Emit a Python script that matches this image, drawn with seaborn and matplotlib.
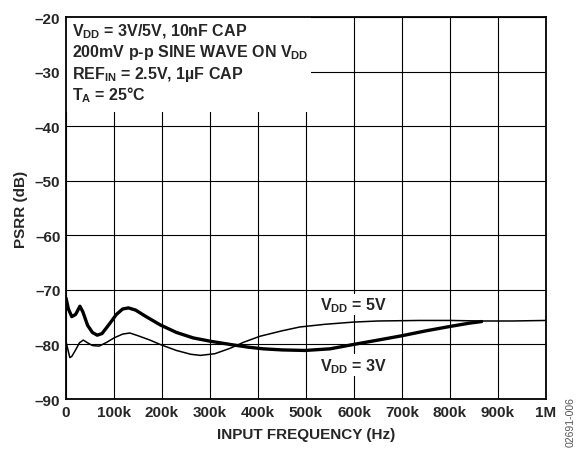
import matplotlib
matplotlib.use("Agg")
import matplotlib.pyplot as plt
import seaborn as sns
import pandas as pd
from matplotlib.patches import Rectangle

# frequency in kHz, PSRR in dB
freq_3v = [0, 5, 12, 20, 29, 35, 45, 55, 65, 75, 90, 105, 118, 130, 145, 165,
           196, 230, 265, 300, 342, 380, 411, 450, 498, 550, 599, 650, 700,
           750, 800, 840, 866]
psrr_3v = [-71.5, -73.5, -74.9, -74.5, -73.0, -74.0, -76.5, -77.8, -78.3, -78.0,
           -76.3, -74.5, -73.5, -73.3, -73.7, -74.8, -76.4, -77.8, -78.8, -79.4,
           -80.0, -80.5, -80.8, -81.0, -81.1, -80.8, -80.0, -79.2, -78.4, -77.5,
           -76.7, -76.1, -75.8]

freq_5v = [0, 3, 8, 12, 20, 28, 36, 45, 55, 69, 85, 100, 118, 133, 150, 175,
           196, 230, 260, 280, 310, 342, 370, 404, 450, 487, 540, 599, 650,
           737, 800, 866, 930, 1000]
psrr_5v = [-79.5, -80.6, -82.4, -82.2, -81.0, -79.7, -79.2, -79.7, -80.2, -80.3,
           -79.6, -78.8, -78.1, -77.9, -78.4, -79.2, -80.0, -81.1, -81.8, -82.0,
           -81.7, -80.7, -79.6, -78.5, -77.5, -76.8, -76.3, -75.9, -75.7, -75.6,
           -75.6, -75.7, -75.7, -75.6]

x_ticks = [0, 100, 200, 300, 400, 500, 600, 700, 800, 900, 1000]
x_labels = ["0", "100k", "200k", "300k", "400k", "500k", "600k", "700k",
            "800k", "900k", "1M"]
y_ticks = [-90, -80, -70, -60, -50, -40, -30, -20]
y_labels = ["\u201390", "\u201380", "\u201370", "\u201360", "\u201350",
            "\u201340", "\u201330", "\u201320"]

notes = ["V$_{\\mathrm{DD}}$ = 3V/5V, 10nF CAP",
         "200mV p-p SINE WAVE ON V$_{\\mathrm{DD}}$",
         "REF$_{\\mathrm{IN}}$ = 2.5V, 1\u00b5F CAP",
         "T$_{\\mathrm{A}}$ = 25\u00b0C"]

sns.set_style("white")
plt.rcParams["font.family"] = ["Liberation Sans", "DejaVu Sans"]
plt.rcParams["font.weight"] = "bold"
plt.rcParams["mathtext.fontset"] = "custom"
plt.rcParams["mathtext.rm"] = "Liberation Sans:bold"
plt.rcParams["mathtext.it"] = "Liberation Sans:bold"
plt.rcParams["mathtext.bf"] = "Liberation Sans:bold"

fig = plt.figure(figsize=(5.8, 4.52), dpi=100)
ax = fig.add_axes([0.1138, 0.115, 0.8276, 0.845])

df3 = pd.DataFrame({"f": freq_3v, "psrr": psrr_3v})
df5 = pd.DataFrame({"f": freq_5v, "psrr": psrr_5v})
sns.lineplot(data=df5, x="f", y="psrr", ax=ax, color="black", lw=1.1,
             sort=False, zorder=2)
sns.lineplot(data=df3, x="f", y="psrr", ax=ax, color="black", lw=2.4,
             sort=False, zorder=2)

ax.set_xlim(0, 1000)
ax.set_ylim(-90, -20)
ax.set_xticks(x_ticks)
ax.set_xticklabels(x_labels, fontsize=11, fontweight="bold")
ax.set_yticks(y_ticks)
ax.set_yticklabels(y_labels, fontsize=11, fontweight="bold")
ax.tick_params(length=0, pad=4)

ax.set_axisbelow(True)
ax.grid(True, color="black", lw=0.8)
for s in ax.spines.values():
    s.set_color("black")
    s.set_linewidth(1.3)

ax.set_xlabel("INPUT FREQUENCY (Hz)", fontsize=11, fontweight="bold", labelpad=6)
ax.set_ylabel("PSRR (dB)", fontsize=11, fontweight="bold", labelpad=5)

# white box behind the conditions text
ax.add_patch(Rectangle((0, 0.751), 0.51, 0.249, transform=ax.transAxes,
                       facecolor="white", edgecolor="none", zorder=1))
for txt, yy in zip(notes, [0.9516, 0.8979, 0.8416, 0.7853]):
    ax.text(0.0125, yy, txt, transform=ax.transAxes, fontsize=11.5,
            fontweight="bold", va="baseline", ha="left", zorder=3)

box = dict(facecolor="white", edgecolor="none", pad=1)
ax.text(600, -72.7, "V$_{\\mathrm{DD}}$ = 5V", fontsize=11.5, fontweight="bold",
        ha="center", va="center", bbox=box, zorder=3)
ax.text(600, -83.8, "V$_{\\mathrm{DD}}$ = 3V", fontsize=11.5, fontweight="bold",
        ha="center", va="center", bbox=box, zorder=3)

fig.text(0.983, 0.066, "02691-006", rotation=90, fontsize=7.5,
         color="#555555", fontweight="normal", ha="center", va="center")

fig.savefig("out.png", dpi=100)
